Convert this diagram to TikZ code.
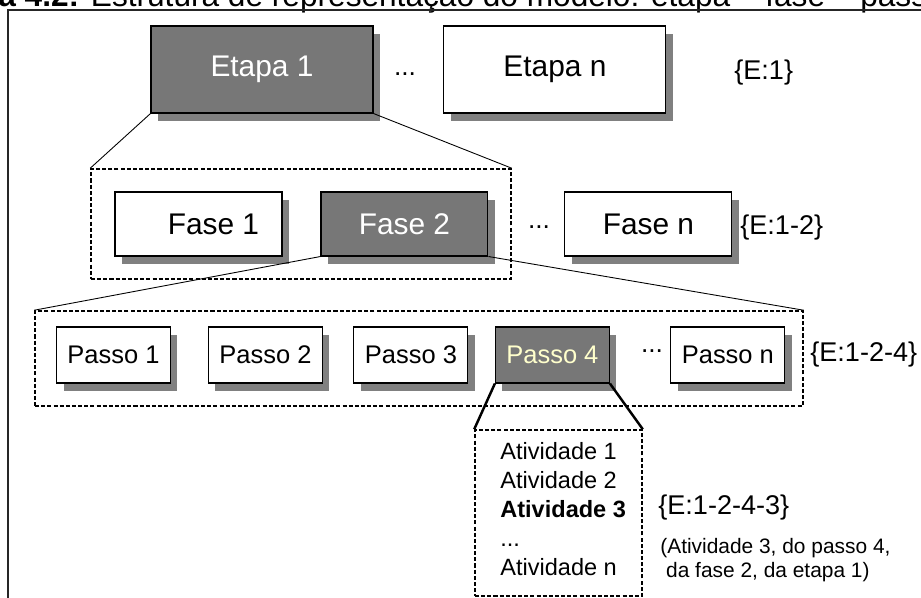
\documentclass[tikz,border=0pt]{standalone}
\usepackage{fontspec}
\setmainfont{Liberation Sans}
\usetikzlibrary{positioning, shadows}
\definecolor{boxgray}{RGB}{119,119,119}
\definecolor{shadowgray}{RGB}{128,128,128}
\definecolor{lightyellow}{RGB}{255,255,204}

\begin{document}
\begin{tikzpicture}[
			x=0.02cm, y=-0.02cm,
			node distance=3cm,
			on grid,
			block/.style={
				draw=black,
				line width=0.6pt,
				fill=white,
				general shadow={fill=shadowgray, shadow xshift=0.14cm, shadow yshift=-0.16cm}
			},
			selected/.style={
				block,
				fill=boxgray,
				text=white
			},
			etapa/.style={minimum width=4.44cm, minimum height=1.74cm, font=\fontsize{17}{20}\selectfont},
			fase/.style={minimum width=3.34cm, minimum height=1.28cm, font=\fontsize{17}{20}\selectfont},
			passo/.style={minimum width=2.28cm, minimum height=1.12cm, font=\fontsize{14.5}{17}\selectfont},
			group/.style={
				draw=black,
				line width=0.9pt,
				dash pattern=on 2.3pt off 1.2pt,
				inner sep=0pt
			},
			code/.style={anchor=west, inner sep=0pt, font=\fontsize{15.4}{18}\selectfont},
			dots/.style={inner sep=0pt, font=\fontsize{15}{18}\selectfont},
			link/.style={draw=black, line width=0.5pt}
			]
			\useasboundingbox (0,0) rectangle (921,598);
			
			% Frame and caption
			\node[anchor=base west, inner sep=0pt, font=\fontsize{18}{21}\selectfont] (caption) at (-2,7)
			{\textbf{a 4.2:} Estrutura de representação do modelo: etapa – fase – passo};
			\draw[line width=0.8pt, black!85] (8,598) -- (8,10) -- (921,10);
			
			% Groups
			\node[group, minimum width=8.4cm, minimum height=2.2cm] (gfase) at (301,224) {};
			\node[group, minimum width=15.36cm, minimum height=1.9cm] (gpasso) at (419,358.5) {};
			\node[group, minimum width=3.34cm, minimum height=3.32cm] (gativ) at (558.5,513) {};
			
			% Etapas
			\node[selected, etapa] (e1) at (262,69.5) {Etapa 1};
			\node[block, etapa, right=5.86cm of e1] (en) {Etapa n};
			\node[dots] (edots) at (405,74) {...};
			\node[code] (ecode) at (734,73) {\{E:1\}};
			
			% Fases
			\node[block, fase] (f1) at (198.5,224) {\quad Fase 1};
			\node[selected, fase, right=4.12cm of f1] (f2) {Fase 2};
			\node[block, fase, right=4.88cm of f2] (fn) {Fase n};
			\node[dots] (fdots) at (539,227) {...};
			\node[code] (fcode) at (740,228) {\{E:1-2\}};
			
			% Passos
			\node[block, passo] (p1) at (113.5,355) {Passo 1};
			\node[block, passo, right=3.04cm of p1] (p2) {Passo 2};
			\node[block, passo, right=2.91cm of p2] (p3) {Passo 3};
			\node[selected, passo, text=lightyellow, right=2.83cm of p3] (p4) {Passo 4};
			\node[block, passo, right=3.51cm of p4] (pn) {Passo n};
			\node[dots] (pdots) at (652,351) {...};
			\node[code] (pcode) at (810,355) {\{E:1-2-4\}};
			
			% Atividades
			\node[anchor=west, align=left, inner sep=0pt, font=\fontsize{13.4}{16.6}\selectfont] (lista) at (500,509)
			{Atividade 1\\Atividade 2\\\textbf{Atividade 3}\\...\\Atividade n};
			\node[code] (acode) at (658,508) {\{E:1-2-4-3\}};
			\node[anchor=west, align=left, inner sep=0pt, font=\fontsize{11.9}{13.7}\selectfont] (nota) at (660,560)
			{(Atividade 3, do passo 4,\\\ da fase 2, da etapa 1)};
			
			% Links
			\draw[link] (e1.south west) -- (gfase.north west);
			\draw[link] (e1.south east) -- (gfase.north east);
			\draw[link] (f2.south west) -- (gpasso.north west);
			\draw[link] (f2.south east) -- (gpasso.north east);
			\draw[link, line width=1.4pt] (p4.south west) -- (gativ.north west);
			\draw[link, line width=1.4pt] (p4.south east) -- (gativ.north east);
		\end{tikzpicture}
\end{document}
